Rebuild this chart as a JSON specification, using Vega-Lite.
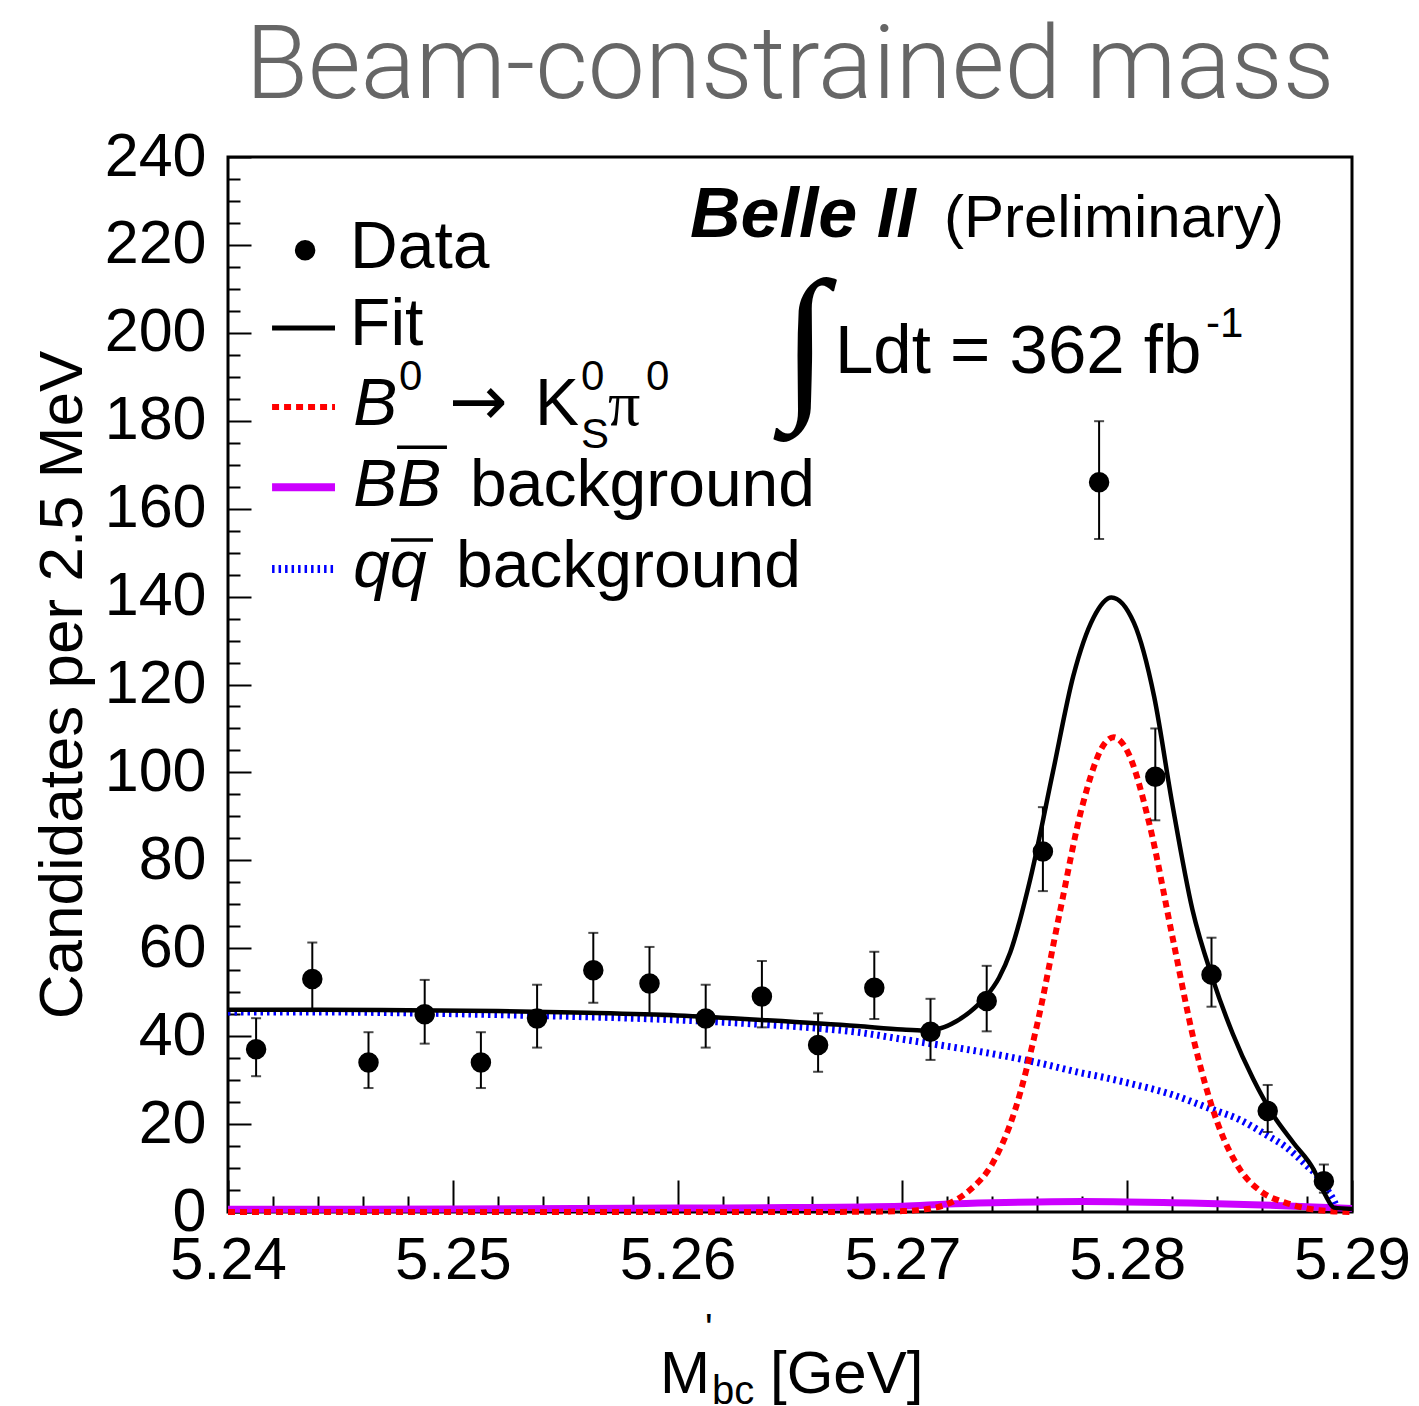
{
  "$schema": "https://vega.github.io/schema/vega-lite/v6.json",
  "width": 1124,
  "height": 1055,
  "autosize": {"type": "none"},
  "padding": {"left": 228, "top": 157, "right": 67, "bottom": 194},
  "background": "white",
  "config": {
    "view": {"stroke": "black", "strokeWidth": 3},
    "font": "Liberation Sans",
    "text": {"font": "Liberation Sans", "color": "black"}
  },
  "datasets": {
    "points": [
      {"x": 5.24125, "n": 37, "lo": 30.9, "hi": 44.1},
      {"x": 5.24375, "n": 53, "lo": 45.7, "hi": 61.3},
      {"x": 5.24625, "n": 34, "lo": 28.2, "hi": 40.9},
      {"x": 5.24875, "n": 45, "lo": 38.3, "hi": 52.8},
      {"x": 5.25125, "n": 34, "lo": 28.2, "hi": 40.9},
      {"x": 5.25375, "n": 44, "lo": 37.4, "hi": 51.7},
      {"x": 5.25625, "n": 55, "lo": 47.6, "hi": 63.5},
      {"x": 5.25875, "n": 52, "lo": 44.8, "hi": 60.3},
      {"x": 5.26125, "n": 44, "lo": 37.4, "hi": 51.7},
      {"x": 5.26375, "n": 49, "lo": 42.0, "hi": 57.1},
      {"x": 5.26625, "n": 38, "lo": 31.9, "hi": 45.2},
      {"x": 5.26875, "n": 51, "lo": 43.9, "hi": 59.2},
      {"x": 5.27125, "n": 41, "lo": 34.6, "hi": 48.5},
      {"x": 5.27375, "n": 48, "lo": 41.1, "hi": 56.0},
      {"x": 5.27625, "n": 82, "lo": 73.0, "hi": 92.1},
      {"x": 5.27875, "n": 166, "lo": 153.1, "hi": 179.9},
      {"x": 5.28125, "n": 99, "lo": 89.1, "hi": 110.0},
      {"x": 5.28375, "n": 54, "lo": 46.7, "hi": 62.4},
      {"x": 5.28625, "n": 23, "lo": 18.2, "hi": 28.9},
      {"x": 5.28875, "n": 7, "lo": 4.4, "hi": 10.8}
    ],
    "fit": [
      {"x": 5.2400, "y": 46.0}, {"x": 5.2440, "y": 46.0}, {"x": 5.2480, "y": 45.9},
      {"x": 5.2520, "y": 45.7}, {"x": 5.2560, "y": 45.3}, {"x": 5.2600, "y": 44.7},
      {"x": 5.2640, "y": 43.6}, {"x": 5.2680, "y": 42.3}, {"x": 5.2700, "y": 41.5},
      {"x": 5.2710, "y": 41.3}, {"x": 5.2717, "y": 41.8}, {"x": 5.2724, "y": 43.4},
      {"x": 5.2730, "y": 45.5}, {"x": 5.2737, "y": 48.9}, {"x": 5.2743, "y": 53.3},
      {"x": 5.2748, "y": 59.1}, {"x": 5.2757, "y": 76.0}, {"x": 5.2767, "y": 100.2},
      {"x": 5.2776, "y": 121.9}, {"x": 5.2785, "y": 135.2}, {"x": 5.2793, "y": 139.8},
      {"x": 5.2803, "y": 134.0}, {"x": 5.2812, "y": 117.2}, {"x": 5.2820, "y": 93.0},
      {"x": 5.2829, "y": 68.8}, {"x": 5.2838, "y": 53.1}, {"x": 5.2847, "y": 40.5},
      {"x": 5.2856, "y": 30.3}, {"x": 5.2865, "y": 22.0}, {"x": 5.2874, "y": 15.7},
      {"x": 5.2883, "y": 9.6}, {"x": 5.2888, "y": 4.0}, {"x": 5.2892, "y": 1.0},
      {"x": 5.2900, "y": 0.7}
    ],
    "sig": [
      {"x": 5.2400, "y": 0.0}, {"x": 5.2650, "y": 0.0}, {"x": 5.2680, "y": 0.05},
      {"x": 5.2700, "y": 0.2}, {"x": 5.2710, "y": 0.6}, {"x": 5.2720, "y": 1.8},
      {"x": 5.2730, "y": 5.0}, {"x": 5.2740, "y": 11.0}, {"x": 5.2750, "y": 23.0},
      {"x": 5.2760, "y": 42.8}, {"x": 5.2770, "y": 68.1}, {"x": 5.2780, "y": 92.3},
      {"x": 5.2790, "y": 106.6}, {"x": 5.2794, "y": 108.0}, {"x": 5.2800, "y": 104.9},
      {"x": 5.2810, "y": 88.0}, {"x": 5.2820, "y": 62.9}, {"x": 5.2830, "y": 38.3},
      {"x": 5.2840, "y": 20.5}, {"x": 5.2850, "y": 9.8}, {"x": 5.2860, "y": 4.5},
      {"x": 5.2870, "y": 2.2}, {"x": 5.2880, "y": 0.8}, {"x": 5.2890, "y": 0.2},
      {"x": 5.2900, "y": 0.0}
    ],
    "bb": [
      {"x": 5.2400, "y": 0.6}, {"x": 5.2500, "y": 0.7}, {"x": 5.2600, "y": 0.9},
      {"x": 5.2650, "y": 1.0}, {"x": 5.2700, "y": 1.3}, {"x": 5.2720, "y": 1.8},
      {"x": 5.2740, "y": 2.1}, {"x": 5.2760, "y": 2.3}, {"x": 5.2780, "y": 2.4},
      {"x": 5.2800, "y": 2.3}, {"x": 5.2820, "y": 2.1}, {"x": 5.2840, "y": 1.9},
      {"x": 5.2860, "y": 1.6}, {"x": 5.2880, "y": 1.2}, {"x": 5.2900, "y": 0.8}
    ],
    "qq": [
      {"x": 5.2400, "y": 45.5}, {"x": 5.2440, "y": 45.5}, {"x": 5.2480, "y": 45.3},
      {"x": 5.2520, "y": 44.9}, {"x": 5.2560, "y": 44.4}, {"x": 5.2600, "y": 43.7},
      {"x": 5.2640, "y": 42.6}, {"x": 5.2660, "y": 41.9}, {"x": 5.2680, "y": 40.9},
      {"x": 5.2700, "y": 39.3}, {"x": 5.2720, "y": 37.7}, {"x": 5.2740, "y": 36.0},
      {"x": 5.2760, "y": 34.0}, {"x": 5.2780, "y": 31.6}, {"x": 5.2788, "y": 30.8},
      {"x": 5.2800, "y": 29.4}, {"x": 5.2820, "y": 26.7}, {"x": 5.2837, "y": 23.5},
      {"x": 5.2850, "y": 21.0}, {"x": 5.2862, "y": 17.5}, {"x": 5.2870, "y": 15.0},
      {"x": 5.2880, "y": 10.5}, {"x": 5.2885, "y": 8.0}, {"x": 5.2889, "y": 5.0},
      {"x": 5.2892, "y": 2.5}, {"x": 5.2894, "y": 0.0}
    ]
  },
  "layer": [
    {
      "data": {"name": "qq"},
      "mark": {"type": "line", "color": "#0000ff", "strokeWidth": 7, "strokeDash": [2.5, 4], "interpolate": "monotone"},
      "encoding": {
        "x": {"field": "x", "type": "quantitative", "scale": {"domain": [5.24, 5.29], "nice": false, "zero": false},
              "axis": {"orient": "bottom", "values": [5.242, 5.244, 5.246, 5.248, 5.252, 5.254, 5.256, 5.258, 5.262, 5.264, 5.266, 5.268, 5.272, 5.274, 5.276, 5.278, 5.282, 5.284, 5.286, 5.288],
                       "tickSize": -16, "tickWidth": 2, "tickColor": "black", "labels": false, "domain": false, "grid": false, "title": null}},
        "y": {"field": "y", "type": "quantitative", "scale": {"domain": [0, 240], "nice": false, "zero": true},
              "axis": {"orient": "left", "values": [5, 10, 15, 25, 30, 35, 45, 50, 55, 65, 70, 75, 85, 90, 95, 105, 110, 115, 125, 130, 135, 145, 150, 155, 165, 170, 175, 185, 190, 195, 205, 210, 215, 225, 230, 235],
                       "tickSize": -12, "tickWidth": 2, "tickColor": "black", "labels": false, "domain": false, "grid": false, "title": null}}
      }
    },
    {
      "data": {"name": "bb"},
      "mark": {"type": "line", "color": "#cc00ff", "strokeWidth": 7, "interpolate": "monotone"},
      "encoding": {
        "x": {"field": "x", "type": "quantitative", "axis": null},
        "y": {"field": "y", "type": "quantitative", "axis": null}
      }
    },
    {
      "data": {"name": "sig"},
      "mark": {"type": "line", "color": "#ff0000", "strokeWidth": 6, "strokeDash": [7, 5], "interpolate": "monotone"},
      "encoding": {
        "x": {"field": "x", "type": "quantitative", "axis": null},
        "y": {"field": "y", "type": "quantitative", "axis": null}
      }
    },
    {
      "data": {"name": "fit"},
      "mark": {"type": "line", "color": "black", "strokeWidth": 4.5, "interpolate": "monotone"},
      "encoding": {
        "x": {"field": "x", "type": "quantitative",
              "axis": {"orient": "bottom", "values": [5.24, 5.25, 5.26, 5.27, 5.28, 5.29], "format": ".2f",
                       "tickSize": -32, "tickWidth": 2, "tickColor": "black", "domain": false, "grid": false,
                       "labelFont": "Liberation Sans", "labelFontSize": 60, "labelColor": "black", "labelPadding": 51,
                       "labelFlush": false, "labelOverlap": false, "title": null}},
        "y": {"field": "y", "type": "quantitative",
              "axis": {"orient": "left", "values": [0, 20, 40, 60, 80, 100, 120, 140, 160, 180, 200, 220, 240], "format": "d",
                       "tickSize": -23, "tickWidth": 2, "tickColor": "black", "domain": false, "grid": false,
                       "labelFont": "Liberation Sans", "labelFontSize": 61, "labelColor": "black", "labelPadding": 45,
                       "labelFlush": false, "labelOverlap": false,
                       "title": "Candidates per 2.5 MeV", "titleFont": "Liberation Sans", "titleFontSize": 62,
                       "titleFontWeight": "normal", "titleColor": "black", "titlePadding": 10}}
      }
    },
    {
      "data": {"name": "points"},
      "mark": {"type": "errorbar", "ticks": {"size": 10, "thickness": 2, "color": "black"}, "rule": {"strokeWidth": 2, "color": "black"}},
      "encoding": {
        "x": {"field": "x", "type": "quantitative", "axis": null},
        "y": {"field": "lo", "type": "quantitative", "axis": null},
        "y2": {"field": "hi"}
      }
    },
    {
      "data": {"name": "points"},
      "mark": {"type": "point", "shape": "circle", "filled": true, "color": "black", "opacity": 1, "size": 420},
      "encoding": {
        "x": {"field": "x", "type": "quantitative", "axis": null},
        "y": {"field": "n", "type": "quantitative", "axis": null}
      }
    },
    {
      "data": {"values": [{"x": 5.24343, "y": 218.8}]},
      "mark": {"type": "point", "shape": "circle", "filled": true, "color": "black", "opacity": 1, "size": 420},
      "encoding": {
        "x": {"field": "x", "type": "quantitative", "axis": null},
        "y": {"field": "y", "type": "quantitative", "axis": null}
      }
    },
    {
      "data": {"values": [{"x": 5.24196, "x2": 5.24476, "y": 201.1}]},
      "mark": {"type": "rule", "color": "black", "strokeWidth": 5},
      "encoding": {
        "x": {"field": "x", "type": "quantitative", "axis": null}, "x2": {"field": "x2"},
        "y": {"field": "y", "type": "quantitative", "axis": null}
      }
    },
    {
      "data": {"values": [{"x": 5.24196, "x2": 5.24476, "y": 183.1}]},
      "mark": {"type": "rule", "color": "#ff0000", "strokeWidth": 6, "strokeDash": [7, 5]},
      "encoding": {
        "x": {"field": "x", "type": "quantitative", "axis": null}, "x2": {"field": "x2"},
        "y": {"field": "y", "type": "quantitative", "axis": null}
      }
    },
    {
      "data": {"values": [{"x": 5.24196, "x2": 5.24476, "y": 164.9}]},
      "mark": {"type": "rule", "color": "#cc00ff", "strokeWidth": 8},
      "encoding": {
        "x": {"field": "x", "type": "quantitative", "axis": null}, "x2": {"field": "x2"},
        "y": {"field": "y", "type": "quantitative", "axis": null}
      }
    },
    {
      "data": {"values": [{"x": 5.24196, "x2": 5.24476, "y": 146.3}]},
      "mark": {"type": "rule", "color": "#0000ff", "strokeWidth": 8, "strokeDash": [2.5, 4]},
      "encoding": {
        "x": {"field": "x", "type": "quantitative", "axis": null}, "x2": {"field": "x2"},
        "y": {"field": "y", "type": "quantitative", "axis": null}
      }
    },
    {
      "data": {"values": [
        {"x": 5.24752, "x2": 5.24974, "y": 174.0},
        {"x": 5.24725, "x2": 5.24912, "y": 152.9}
      ]},
      "mark": {"type": "rule", "color": "black", "strokeWidth": 3.5},
      "encoding": {
        "x": {"field": "x", "type": "quantitative", "axis": null}, "x2": {"field": "x2"},
        "y": {"field": "y", "type": "quantitative", "axis": null}
      }
    },
    {
      "data": {"values": [{"x": 5.265, "y": 253.4, "t": "Beam-constrained mass"}]},
      "mark": {"type": "text", "font": "Roboto", "fontWeight": 300, "fontSize": 102, "color": "#666666", "align": "center", "baseline": "alphabetic"},
      "encoding": {
        "x": {"field": "x", "type": "quantitative", "axis": null},
        "y": {"field": "y", "type": "quantitative", "axis": null},
        "text": {"field": "t"}
      }
    },
    {
      "data": {"values": [
        {"x": 5.24543, "y": 214.7, "t": "Data"},
        {"x": 5.24543, "y": 197.2, "t": "Fit"},
        {"x": 5.25077, "y": 160.6, "t": "background"},
        {"x": 5.25014, "y": 142.2, "t": "background"},
        {"x": 5.25366, "y": 179.0, "t": "K"}
      ]},
      "mark": {"type": "text", "fontSize": 66, "align": "left", "baseline": "alphabetic"},
      "encoding": {
        "x": {"field": "x", "type": "quantitative", "axis": null},
        "y": {"field": "y", "type": "quantitative", "axis": null},
        "text": {"field": "t"}
      }
    },
    {
      "data": {"values": [{"x": 5.26700, "y": 190.9, "t": "Ldt = 362 fb"}]},
      "mark": {"type": "text", "fontSize": 69, "align": "left", "baseline": "alphabetic"},
      "encoding": {
        "x": {"field": "x", "type": "quantitative", "axis": null},
        "y": {"field": "y", "type": "quantitative", "axis": null},
        "text": {"field": "t"}
      }
    },
    {
      "data": {"values": [{"x": 5.24983, "y": 179.0, "t": "→"}]},
      "mark": {"type": "text", "font": "DejaVu Sans", "fontSize": 70, "align": "left", "baseline": "alphabetic"},
      "encoding": {
        "x": {"field": "x", "type": "quantitative", "axis": null},
        "y": {"field": "y", "type": "quantitative", "axis": null},
        "text": {"field": "t"}
      }
    },
    {
      "data": {"values": [
        {"x": 5.24557, "y": 179.0, "t": "B"},
        {"x": 5.24557, "y": 160.6, "t": "BB"},
        {"x": 5.24557, "y": 142.2, "t": "qq"}
      ]},
      "mark": {"type": "text", "fontSize": 66, "fontStyle": "italic", "align": "left", "baseline": "alphabetic"},
      "encoding": {
        "x": {"field": "x", "type": "quantitative", "axis": null},
        "y": {"field": "y", "type": "quantitative", "axis": null},
        "text": {"field": "t"}
      }
    },
    {
      "data": {"values": [
        {"x": 5.24761, "y": 187.0, "t": "0"},
        {"x": 5.25570, "y": 187.0, "t": "0"},
        {"x": 5.25570, "y": 173.8, "t": "S"},
        {"x": 5.25859, "y": 187.0, "t": "0"},
        {"x": 5.28351, "y": 199.0, "t": "-1"}
      ]},
      "mark": {"type": "text", "fontSize": 42, "align": "left", "baseline": "alphabetic"},
      "encoding": {
        "x": {"field": "x", "type": "quantitative", "axis": null},
        "y": {"field": "y", "type": "quantitative", "axis": null},
        "text": {"field": "t"}
      }
    },
    {
      "data": {"values": [{"x": 5.25690, "y": 179.0, "t": "π"}]},
      "mark": {"type": "text", "font": "Liberation Serif", "fontSize": 64, "align": "left", "baseline": "alphabetic"},
      "encoding": {
        "x": {"field": "x", "type": "quantitative", "axis": null},
        "y": {"field": "y", "type": "quantitative", "axis": null},
        "text": {"field": "t"}
      }
    },
    {
      "data": {"values": [{"x": 5.26465, "y": 185.5, "t": "∫"}]},
      "mark": {"type": "text", "font": "Liberation Serif", "fontSize": 168, "fontWeight": "bold", "align": "left", "baseline": "alphabetic"},
      "encoding": {
        "x": {"field": "x", "type": "quantitative", "axis": null},
        "y": {"field": "y", "type": "quantitative", "axis": null},
        "text": {"field": "t"}
      }
    },
    {
      "data": {"values": [{"x": 5.26055, "y": 221.8, "t": "Belle II"}]},
      "mark": {"type": "text", "fontSize": 70, "fontWeight": "bold", "fontStyle": "italic", "align": "left", "baseline": "alphabetic"},
      "encoding": {
        "x": {"field": "x", "type": "quantitative", "axis": null},
        "y": {"field": "y", "type": "quantitative", "axis": null},
        "text": {"field": "t"}
      }
    },
    {
      "data": {"values": [{"x": 5.27185, "y": 221.8, "t": "(Preliminary)"}]},
      "mark": {"type": "text", "fontSize": 60, "align": "left", "baseline": "alphabetic"},
      "encoding": {
        "x": {"field": "x", "type": "quantitative", "axis": null},
        "y": {"field": "y", "type": "quantitative", "axis": null},
        "text": {"field": "t"}
      }
    },
    {
      "data": {"values": [
        {"x": 5.25922, "y": -41.2, "t": "M"},
        {"x": 5.26411, "y": -41.2, "t": "[GeV]"}
      ]},
      "mark": {"type": "text", "fontSize": 60, "align": "left", "baseline": "alphabetic"},
      "encoding": {
        "x": {"field": "x", "type": "quantitative", "axis": null},
        "y": {"field": "y", "type": "quantitative", "axis": null},
        "text": {"field": "t"}
      }
    },
    {
      "data": {"values": [
        {"x": 5.26153, "y": -43.7, "t": "bc"},
        {"x": 5.26122, "y": -29.6, "t": "'"}
      ]},
      "mark": {"type": "text", "fontSize": 40, "align": "left", "baseline": "alphabetic"},
      "encoding": {
        "x": {"field": "x", "type": "quantitative", "axis": null},
        "y": {"field": "y", "type": "quantitative", "axis": null},
        "text": {"field": "t"}
      }
    }
  ],
  "resolve": {"axis": {"x": "independent", "y": "independent"}}
}
